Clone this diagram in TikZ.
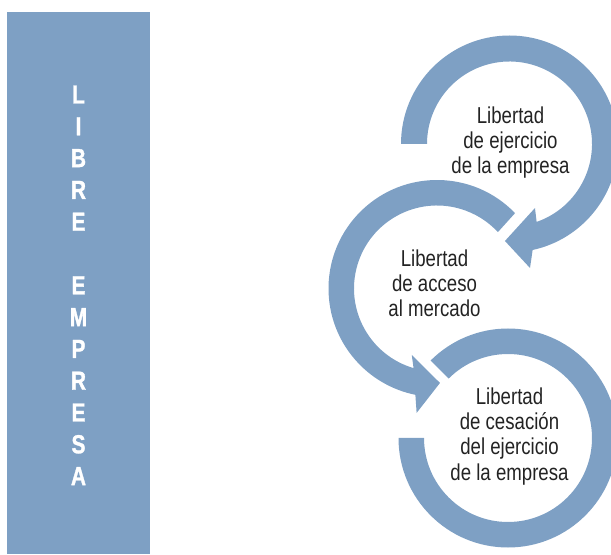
\documentclass[tikz,border=0pt]{standalone}
\usepackage{fontspec}
\setmainfont{Liberation Sans}[FakeStretch=0.81]
\newfontfamily\lettfont{Liberation Sans Bold}[FakeStretch=0.8,FakeBold=1.2]
\definecolor{ringblue}{RGB}{126,160,196}
\definecolor{txtgray}{RGB}{35,35,35}
\begin{document}
\begin{tikzpicture}[x=0.75pt,y=0.75pt,
  ring/.style={fill=ringblue},
  lbl/.style={inner sep=0pt,anchor=base,text=txtgray,font=\fontsize{17.25}{18.75}\selectfont},
  letter/.style={inner sep=0pt,anchor=base,text=white,font=\lettfont\fontsize{19.6}{20}\selectfont}]
\useasboundingbox (0,0) rectangle (611,554);
% left band
\fill[ringblue] (7,0) rectangle (150,542);
\foreach \ch/\k in {L/0,I/1,B/2,R/3,E/4,E/6,M/7,P/8,R/9,E/10,S/11,A/12}
  \node[letter] (let\k) at (78.5,{450.5-31.8*\k}) {\ch};
% top ring with arrow
\begin{scope}[shift={(509.5,410)}]
\fill[ring] (180:108.5) arc[start angle=180,end angle=-77.7,radius=81.375pt]
  -- (-80.6:125.7) -- (-92.7:97.1) -- (-68.3:68.9) -- (-70.8:82.5)
  arc[start angle=-70.8,end angle=180,radius=61.875pt] -- cycle;
\end{scope}
% middle ring with arrow
\begin{scope}[shift={(437,265.5)}]
\fill[ring] (44:108.5) arc[start angle=44,end angle=258.5,radius=81.375pt]
  -- (260.7:126.1) -- (271.8:94.5) -- (249.2:71.1) -- (253.6:83)
  arc[start angle=253.6,end angle=42.8,radius=62.25pt] -- cycle;
\end{scope}
% bottom ring
\begin{scope}[shift={(508,116)}]
\fill[ring] (180:109.5) arc[start angle=180,end angle=495,radius=82.125pt]
  -- (135:84) arc[start angle=135,end angle=-180,radius=63pt] -- cycle;
\end{scope}
% texts
\node[lbl] (t1a) at (510.5,430.7) {Libertad};
\node[lbl] (t1b) at (510.5,405.7) {de ejercicio};
\node[lbl] (t1c) at (510.5,380.7) {de la empresa};
\node[lbl] (t2a) at (434.5,287.3) {Libertad};
\node[lbl] (t2b) at (434.5,262.3) {de acceso};
\node[lbl] (t2c) at (434.5,237.3) {al mercado};
\node[lbl] (t3a) at (509.5,149) {Libertad};
\node[lbl] (t3b) at (509.5,124) {de cesación};
\node[lbl] (t3c) at (509.5,99) {del ejercicio};
\node[lbl] (t3d) at (509.5,74) {de la empresa};
\end{tikzpicture}
\end{document}
